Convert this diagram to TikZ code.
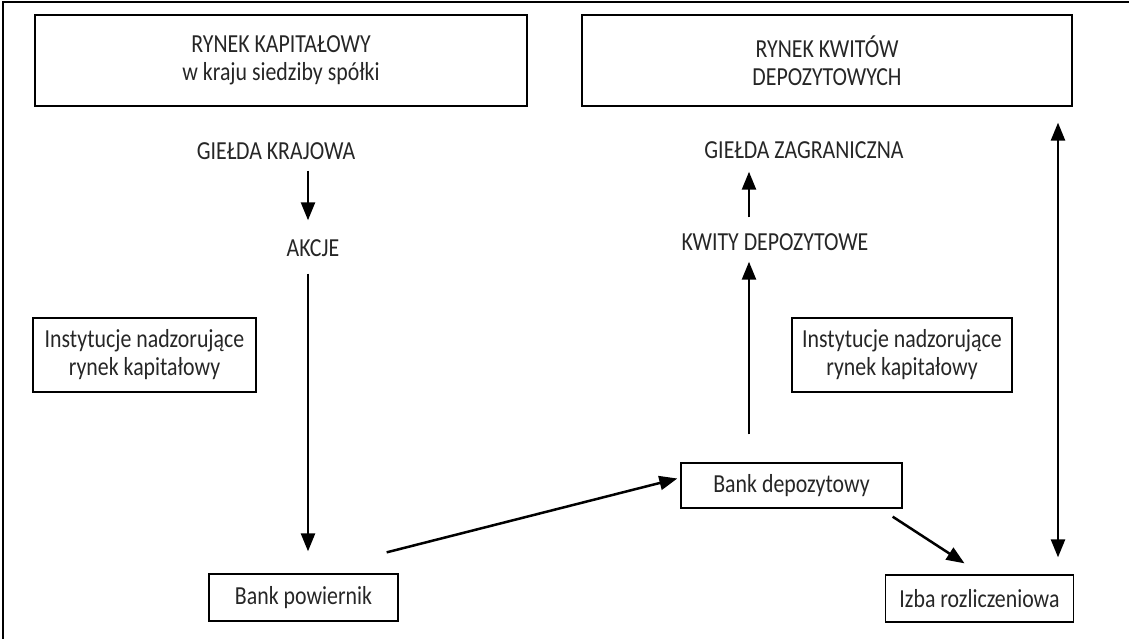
\documentclass[tikz,border=0pt]{standalone}
\usepackage{fontspec}
\setmainfont{Carlito}[FakeStretch=0.84]
\usetikzlibrary{positioning, arrows.meta}

\begin{document}
\begin{tikzpicture}[x=1pt, y=-1pt, >={Triangle[length=18pt, width=14pt]},
  every node/.style={font=\fontsize{26}{28}\selectfont, text=black!85, align=center},
  box/.style={draw, rectangle, line width=1.3pt, inner sep=0pt},
  lbl/.style={inner sep=0pt},
  link/.style={->, line width=2.5pt}]
  \useasboundingbox (0,0) rectangle (1129,639);
  \draw [line width=1.5pt] (1129,2) -- (3,2) -- (3,639);

  % upper boxes
  \node (kapital) [box, minimum width=492pt, minimum height=91pt] at (281,60.5) {RYNEK KAPITAŁOWY\\w kraju siedziby spółki};
  \node (kwity) [box, minimum width=490pt, minimum height=91pt] at (827,60.5) {RYNEK KWITÓW\\DEPOZYTOWYCH};

  % left column
  \node (krajowa) [lbl] at (276,151) {GIEŁDA KRAJOWA};
  \node (akcje) [lbl] at (313,248) {AKCJE};
  \node (nadzorL) [box, minimum width=223pt, minimum height=74pt] at (144.5,355) {Instytucje nadzorujące\\rynek kapitałowy};
  \node (powiernik) [box, minimum width=189pt, minimum height=47pt] at (303.5,597.5) {Bank powiernik};

  % right column
  \node (zagr) [lbl] at (804,150) {GIEŁDA ZAGRANICZNA};
  \node (kwitydep) [lbl] at (775,242) {KWITY DEPOZYTOWE};
  \node (nadzorR) [box, minimum width=220pt, minimum height=74pt] at (902,355) {Instytucje nadzorujące\\rynek kapitałowy};
  \node (depoz) [box, minimum width=221pt, minimum height=45pt] at (791.5,485.5) {Bank depozytowy};
  \node (izba) [box, minimum width=188pt, minimum height=47pt] at (979.5,598.5) {Izba rozliczeniowa};

  \coordinate (lewy) at (308,0);
  \coordinate (srodek) at (749,0);
  \coordinate (pion) at (1058,0);

  \draw [link, shorten <=11pt, shorten >=19pt] (krajowa.south -| lewy) -- (akcje.north -| lewy);
  \draw [link, shorten <=17pt, shorten >=22pt] (akcje.south -| lewy) -- (powiernik.north -| lewy);
  \draw [link] ([shift={(-12,-21)}]powiernik.north east) -- ([shift={(-3,-7)}]depoz.west);
  \draw [link, shorten <=28pt, shorten >=11pt] (depoz.north -| srodek) -- (kwitydep.south -| srodek);
  \draw [link, shorten <=16pt, shorten >=13pt] (kwitydep.north -| srodek) -- (zagr.south -| srodek);
  \draw [link] ([shift={(-10,8)}]depoz.south east) -- ([shift={(-15,-11)}]izba.north);
  \draw [link, <->, shorten <=17pt, shorten >=16pt] (izba.north -| pion) -- (kwity.south -| pion);
\end{tikzpicture}
\end{document}
